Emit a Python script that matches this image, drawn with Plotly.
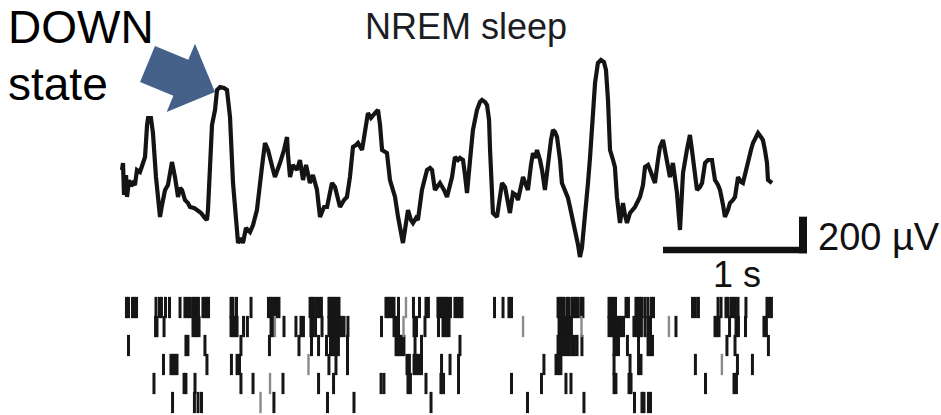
import plotly.graph_objects as go
import math

# ---------------- data ----------------
# LFP trace: time (ms) and voltage (µV)
lfp_t_ms = [0, 7, 14, 28, 35, 49, 62, 76, 90, 104, 125, 139, 160, 174, 181, 201, 215, 236, 250, 264,
            278, 299, 319, 347, 368, 389, 403, 417, 437, 458, 472, 500, 521, 549, 576, 590, 597, 611, 625, 646,
            660, 681, 708, 729, 750, 771, 792, 806, 826, 840, 861, 889, 910, 937, 972, 993, 1014, 1028, 1049, 1062,
            1083, 1097, 1125, 1146, 1153, 1167, 1187, 1215, 1236, 1257, 1278, 1305, 1326, 1354, 1375, 1403, 1424, 1444, 1458, 1479,
            1500, 1514, 1542, 1562, 1583, 1604, 1625, 1639, 1667, 1687, 1708, 1729, 1743, 1764, 1778, 1792, 1806, 1826, 1840, 1861,
            1896, 1917, 1937, 1951, 1965, 1986, 2007, 2021, 2042, 2055, 2083, 2104, 2118, 2139, 2153, 2173, 2194, 2208, 2236, 2257,
            2278, 2292, 2312, 2333, 2347, 2368, 2382, 2396, 2417, 2437, 2465, 2486, 2500, 2521, 2535, 2549, 2556, 2569, 2576, 2604,
            2625, 2639, 2660, 2680, 2694, 2715, 2736, 2750, 2771, 2785, 2805, 2819, 2840, 2854, 2868, 2882, 2903, 2917, 2937, 2958,
            2979, 2993, 3007, 3021, 3042, 3055, 3076, 3097, 3111, 3132, 3146, 3167, 3180, 3194, 3201, 3222, 3236, 3250, 3264, 3285,
            3305, 3326, 3347, 3361, 3375, 3389, 3410, 3423, 3437, 3458, 3472, 3479, 3493, 3507, 3528, 3548, 3562, 3597, 3618, 3632,
            3653, 3667, 3687, 3701, 3722, 3736, 3757, 3771, 3785, 3805, 3826, 3840, 3854, 3875, 3889, 3896, 3923, 3944, 3958, 3965,
            3979, 3993, 4014, 4028, 4049, 4069, 4097, 4118, 4139, 4153, 4174, 4187, 4208, 4222, 4243, 4257, 4278, 4299, 4312, 4333,
            4347, 4368, 4382, 4403, 4417, 4437, 4451, 4465, 4479, 4486, 4500, 4514]
lfp_uv = [90, 132, -60, 60, -72, 30, -6, 12, 0, 90, 78, 120, 168, 360, 402, 402, 312, 48, -90, -192,
          -120, -30, 0, 138, 48, -72, -18, -30, -90, -108, -132, -138, -150, -168, -198, -210, -150, 108, 360, 450,
          570, 588, 582, 570, 408, 12, -240, -348, -318, -348, -258, -282, -240, -150, 108, 252, 210, 150, 90, 48,
          90, 132, 210, 288, 180, 48, 120, 90, 150, 30, 120, 12, 60, -30, -192, -132, -132, -60, 12, -12,
          -90, -132, -90, -72, 48, 228, 240, 252, 210, 312, 432, 402, 420, 438, 450, 360, 210, 198, 192, 30,
          -72, -192, -300, -348, -270, -150, -210, -228, -198, -210, -30, 60, 90, 102, 90, -30, 0, 12, -30, -72,
          0, 48, 168, 150, 162, 150, 60, -48, 150, 330, 450, 498, 510, 498, 480, 390, 210, -30, -168, -192,
          -90, 12, -12, -90, -168, -48, -60, -90, 0, 48, 0, -30, 120, 192, 162, 210, 150, 90, -30, 150,
          270, 330, 318, 288, 150, 12, -30, -78, -132, -210, -270, -360, -432, -378, -312, -150, 12, 162, 312, 612,
          732, 750, 738, 690, 510, 210, 150, 108, -72, -228, -150, -108, -180, -228, -168, -150, -132, -72, 0, 108,
          120, 90, 42, 12, 150, 228, 270, 210, 150, 48, 132, 60, -48, -270, -90, 72, 210, 300, 210, 150,
          60, -30, -12, 12, 132, 150, 150, 30, 0, -30, -120, -192, -150, -108, -90, -72, 48, 18, 12, 90,
          150, 210, 252, 288, 312, 288, 270, 210, 132, 30, 18, 12]

# Spike raster: spike times (ms) for each of 6 units (top to bottom)
spikes_unit1 = [31, 45, 73, 87, 101, 236, 260, 274, 302, 330, 403, 437, 455, 469, 490, 503, 517, 531, 562, 576,
                590, 601, 757, 771, 795, 896, 1017, 1031, 1045, 1062, 1076, 1090, 1306, 1319, 1333, 1351, 1368, 1385,
                1437, 1451, 1465, 1479, 1493, 1507, 1833, 1847, 1861, 1875, 1889, 1920, 2024, 2066, 2111, 2128,
                2194, 2208, 2222, 2236, 2250, 2264, 2281, 2312, 2330, 2347, 2361, 2587, 2646, 2687, 2705,
                3028, 3042, 3055, 3069, 3090, 3104, 3125, 3139, 3153, 3167, 3187, 3201, 3382, 3396, 3410, 3427,
                3500, 3517, 3569, 3583, 3597, 3611, 3632, 3653, 3677, 3691, 3962, 3982, 4003, 4139, 4160, 4194,
                4208, 4229, 4246, 4260, 4278, 4333, 4479, 4493, 4510]
spikes_unit2 = [233, 243, 292, 493, 507, 521, 535, 757, 771, 785, 799, 844, 871, 1035, 1049, 1125, 1208, 1243,
                1260, 1312, 1326, 1344, 1389, 1437, 1451, 1465, 1479, 1493, 1507, 1524, 1542, 1569, 1802, 1889,
                1903, 1920, 2028, 2045, 2104, 2198, 2229, 2243, 2257, 2271, 3035, 3048, 3062, 3076, 3090, 3104,
                3121, 3382, 3396, 3410, 3423, 3437, 3451, 3465, 3483, 3555, 3573, 3590, 3607, 3632, 3653, 3670,
                3847, 4118, 4132, 4146, 4219, 4264, 4281, 4330, 4458, 4475]
spikes_unit3 = [45, 444, 458, 576, 826, 1024, 1229, 1316, 1365, 1420, 1448, 1462, 1476, 1490, 1503, 1566, 1903,
                1917, 1930, 1944, 1958, 2035, 2080, 2347, 3028, 3042, 3055, 3073, 3090, 3107, 3125, 3142, 3160,
                3194, 3417, 3430, 3448, 3510, 3587, 3653, 3667, 3684, 4201, 4257, 4489]
spikes_unit4 = [288, 340, 354, 368, 382, 590, 760, 799, 816, 1437, 1486, 1566, 1979, 1996, 2028, 2045, 2062,
                2080, 2219, 2278, 2337, 2930, 3014, 3031, 3048, 3417, 3528, 3587, 3604, 3982, 4274, 4378]
spikes_unit5 = [222, 431, 444, 507, 826, 910, 1118, 1365, 1469, 1799, 1819, 1986, 2003, 2111, 2215, 2233,
                2337, 2705, 2913, 3083, 3118, 3417, 3430, 3521, 3535, 4052, 4250, 4267]
spikes_unit6 = [351, 503, 528, 552, 1055, 1427, 1611, 2146, 2816, 3208, 3559, 3611, 3625, 3656, 3670]
# faint (grey) spikes: (unit, time ms)
faint_units = [1, 2, 2, 2, 2, 2, 4, 4, 5, 6]
faint_times = [1972, 1062, 1955, 2785, 3191, 3798, 1295, 4166, 1028, 962]

title_text = "NREM sleep"
label_line1 = "DOWN"
label_line2 = "state"
scale_time_s = 1
scale_volt_uv = 200

# ---------------- layout constants ----------------
W, H = 941, 415
PX_PER_MS = 0.144          # 1 s = 144 px
T0_PX = 122                # t = 0 position
UV_PER_PX = 6.0            # 200 µV ≈ 33 px
V0_PX = 185                # 0 µV position
ROW1_PX, ROW_STEP = 307.5, 19.0

x_range = [-T0_PX / PX_PER_MS, (W - T0_PX) / PX_PER_MS]
y_range = [-(H - V0_PX) * UV_PER_PX, V0_PX * UV_PER_PX]
y2_range = [1 + (H - ROW1_PX) / ROW_STEP, 1 - ROW1_PX / ROW_STEP]

fig = go.Figure()

# LFP
fig.add_trace(go.Scatter(x=lfp_t_ms, y=lfp_uv, mode="lines",
                         line=dict(color="#141414", width=4.2, shape="linear"),
                         hoverinfo="skip"))

# raster
HALF = 0.56
def raster_xy(units, times):
    xs, ys = [], []
    for u, t in zip(units, times):
        xs += [t, t, None]
        ys += [u - HALF, u + HALF, None]
    return xs, ys

all_units, all_times = [], []
for u, lst in enumerate([spikes_unit1, spikes_unit2, spikes_unit3,
                         spikes_unit4, spikes_unit5, spikes_unit6], start=1):
    all_units += [u] * len(lst)
    all_times += lst
xs, ys = raster_xy(all_units, all_times)
fig.add_trace(go.Scatter(x=xs, y=ys, yaxis="y2", mode="lines",
                         line=dict(color="#161616", width=3.0), hoverinfo="skip"))
xs, ys = raster_xy(faint_units, faint_times)
fig.add_trace(go.Scatter(x=xs, y=ys, yaxis="y2", mode="lines",
                         line=dict(color="#8a8a8a", width=2.4), hoverinfo="skip"))

# scale bar (anchored in data units)
bar_end_ms = 4757
bar_base_uv = -390
vert_x = bar_end_ms - 4 / PX_PER_MS
fig.add_shape(type="line", xref="x", yref="y",
              x0=bar_end_ms - scale_time_s * 1000, x1=bar_end_ms, y0=bar_base_uv, y1=bar_base_uv,
              line=dict(color="#111", width=6.5))
fig.add_shape(type="line", xref="x", yref="y",
              x0=vert_x, x1=vert_x, y0=bar_base_uv - 3.3 * UV_PER_PX, y1=bar_base_uv + scale_volt_uv,
              line=dict(color="#111", width=8))

# block arrow pointing at the DOWN state peak (pixel geometry -> paper coords)
tail = (147.5, 64.0)
tip = (215.0, 92.0)
shaft_hw, head_hw, head_len = 19.5, 37.0, 37.0
dx, dy = tip[0] - tail[0], tip[1] - tail[1]
L = math.hypot(dx, dy)
ux, uy = dx / L, dy / L
nx, ny = -uy, ux
bx, by = tail[0] + ux * (L - head_len), tail[1] + uy * (L - head_len)
pts = [
    (tail[0] + nx * shaft_hw, tail[1] + ny * shaft_hw),
    (tail[0] - nx * shaft_hw, tail[1] - ny * shaft_hw),
    (bx - nx * shaft_hw, by - ny * shaft_hw),
    (bx - nx * head_hw, by - ny * head_hw),
    tip,
    (bx + nx * head_hw, by + ny * head_hw),
    (bx + nx * shaft_hw, by + ny * shaft_hw),
]
path = "M " + " L ".join(f"{px / W:.5f},{1 - py / H:.5f}" for px, py in pts) + " Z"
fig.add_shape(type="path", xref="paper", yref="paper", path=path,
              fillcolor="#45618a", line=dict(width=0))

font = "Liberation Sans, Arial, Helvetica, sans-serif"
ann = [
    dict(text=title_text, x=466 / W, y=1 - 26 / H, xanchor="center", yanchor="middle",
         font=dict(size=36, color="#1c1c24")),
    dict(text=label_line1, x=6 / W, y=1 - 27 / H, xanchor="left", yanchor="middle",
         font=dict(size=46, color="#000")),
    dict(text=label_line2, x=6 / W, y=1 - 84 / H, xanchor="left", yanchor="middle",
         font=dict(size=46, color="#000")),
    dict(text=f"{scale_time_s} s", x=737 / W, y=1 - 274 / H, xanchor="center", yanchor="middle",
         font=dict(size=36, color="#111")),
    dict(text=f"{scale_volt_uv} µV", x=816 / W, y=1 - 237 / H, xanchor="left", yanchor="middle",
         font=dict(size=38, color="#111")),
]
for a in ann:
    a.update(xref="paper", yref="paper", showarrow=False, font=dict(family=font, **a["font"]))
fig.update_layout(annotations=ann)

fig.update_layout(
    width=W, height=H, margin=dict(l=0, r=0, t=0, b=0, pad=0),
    paper_bgcolor="white", plot_bgcolor="white", showlegend=False,
    xaxis=dict(range=x_range, visible=False, fixedrange=True),
    yaxis=dict(range=y_range, visible=False, fixedrange=True),
    yaxis2=dict(range=y2_range, visible=False, overlaying="y", fixedrange=True),
)
fig.write_html("out.html")
